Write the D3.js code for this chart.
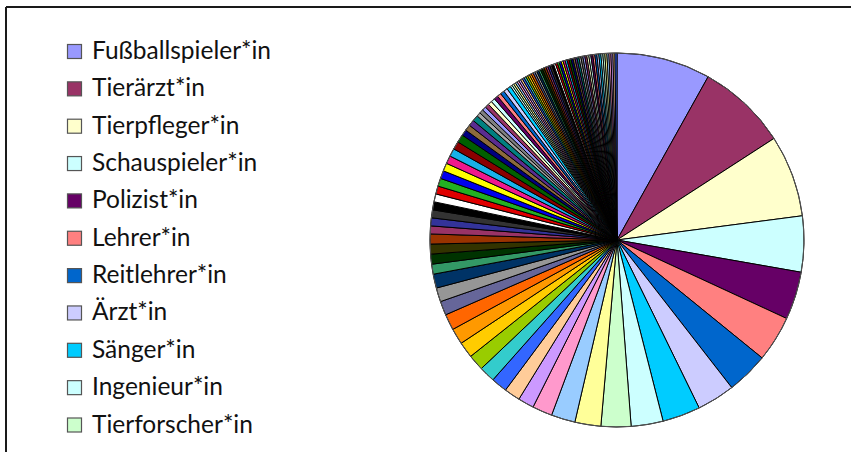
<!DOCTYPE html>
<html>
<head>
<meta charset="utf-8">
<script src="https://cdn.jsdelivr.net/npm/d3@7"></script>
<style>
  html, body { margin: 0; padding: 0; background: #fff; }
  svg { display: block; }
</style>
</head>
<body>
<svg id="chart" width="851" height="452"></svg>
<script>
// ---- data ----
const legendLabels = [
  "Fußballspieler*in", "Tierärzt*in", "Tierpfleger*in", "Schauspieler*in",
  "Polizist*in", "Lehrer*in", "Reitlehrer*in", "Ärzt*in", "Sänger*in",
  "Ingenieur*in", "Tierforscher*in"
];
// counts per slice, clockwise from 12 o'clock
const values = [
  47, 45, 41, 28, 24, 23, 21, 19, 19, 16, 15,
  13, 12, 10, 8, 8, 8, 8, 8, 8, 8, 8, 7, 7, 7,
  5, 5, 5, 5, 4, 4, 4, 4, 4,
  4, 4, 4, 4, 4, 4, 4, 4,
  3, 3, 3, 3, 2, 2,
  2, 2, 2, 2, 2, 2, 2, 2, 2,
  1, 1, 1, 1, 1, 1, 1, 1, 1, 1, 1, 1, 1, 1, 1, 1, 1, 1, 1, 1,
  1, 1, 1, 1, 1, 1, 1, 1, 1, 1, 1, 1, 1, 1, 1, 1, 1, 1, 1, 1,
  1, 1, 1, 1, 1, 1, 1, 1, 1, 1, 1, 1, 1, 1, 1, 1
];
// Excel-style automatic fill palette (cycled)
const palette = [
  "#9999ff", "#993366", "#ffffcc", "#ccffff", "#660066", "#ff8080", "#0066cc", "#ccccff",
  "#00ccff", "#ccffff", "#ccffcc", "#ffff99", "#99ccff", "#ff99cc", "#cc99ff", "#ffcc99",
  "#3366ff", "#33cccc", "#99cc00", "#ffcc00", "#ff9900", "#ff6600", "#666699", "#969696",
  "#003366", "#339966", "#003300", "#333300", "#993300", "#993366", "#333399", "#333333",
  "#000000", "#ffffff", "#e00000", "#22b022", "#0000ee", "#ffff00", "#f0188c", "#18b0e8",
  "#8b0000", "#006000", "#000080", "#8c6a3c", "#5a2c90", "#008080", "#a8a8a8", "#808080"
];

// ---- drawing ----
const svg = d3.select("#chart");
const W = 851, H = 452;

// frame (top and left edges visible)
svg.append("line").attr("x1", 6).attr("y1", 7).attr("x2", W).attr("y2", 7)
  .attr("stroke", "#1a1a1a").attr("stroke-width", 2);
svg.append("line").attr("x1", 6).attr("y1", 7).attr("x2", 6).attr("y2", H)
  .attr("stroke", "#1a1a1a").attr("stroke-width", 2);

const cx = 617, cy = 240, R = 187;
const pie = d3.pie().sort(null).value(d => d);
const arcs = pie(values);
const arc = d3.arc().innerRadius(0).outerRadius(R);
const color = i => palette[i % palette.length];

const g = svg.append("g").attr("transform", `translate(${cx},${cy})`);
g.selectAll("path.slice").data(arcs).enter().append("path")
  .attr("class", "slice")
  .attr("d", arc)
  .attr("fill", (d, i) => color(i))
  .attr("stroke", "#000")
  .attr("stroke-width", 1)
  .attr("stroke-linejoin", "round");
g.append("circle").attr("r", R).attr("fill", "none")
  .attr("stroke", "#555").attr("stroke-width", 1);

// legend
const lx = 67, ly0 = 51, step = 37.35, sq = 14;
const leg = svg.append("g");
legendLabels.forEach((name, i) => {
  const y = ly0 + i * step;
  leg.append("rect").attr("x", lx + 0.5).attr("y", y - sq / 2 + 0.5)
    .attr("width", sq).attr("height", sq)
    .attr("fill", color(i)).attr("stroke", "#555").attr("stroke-width", 1.2);
  leg.append("text").attr("x", 92).attr("y", y + 8)
    .attr("font-family", "Lato, 'Open Sans', sans-serif")
    .attr("font-size", 24.5)
    .attr("fill", "#111")
    .text(name);
});
</script>
</body>
</html>
